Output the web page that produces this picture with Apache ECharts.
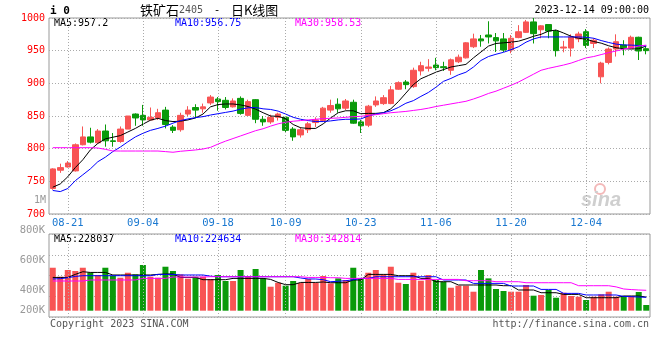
<!DOCTYPE html>
<html><head><meta charset="utf-8">
<script src="https://cdn.jsdelivr.net/npm/echarts@6/dist/echarts.min.js"></script>
<style>html,body{margin:0;padding:0;background:#fff}#c{width:660px;height:360px}</style>
</head><body><div id="c"></div>
<script>
const dates = ['08-17','08-18','08-21','08-22','08-23','08-24','08-25','08-28','08-29','08-30','08-31','09-01','09-04','09-05','09-06','09-07','09-08','09-11','09-12','09-13','09-14','09-15','09-18','09-19','09-20','09-21','09-22','09-25','09-26','09-27','09-28','10-09','10-10','10-11','10-12','10-13','10-16','10-17','10-18','10-19','10-20','10-23','10-24','10-25','10-26','10-27','10-30','10-31','11-01','11-02','11-03','11-06','11-07','11-08','11-09','11-10','11-13','11-14','11-15','11-16','11-17','11-20','11-21','11-22','11-23','11-24','11-27','11-28','11-29','11-30','12-01','12-04','12-05','12-06','12-07','12-08','12-11','12-12','12-13','12-14'];
const opens  = [739,767,772,766,806,818,809,827,812,811, 830,853,851,844,847,859,833,829,853,863, 861,870,876,874,864,877,851,875,845,841, 848,848,830,821,829,840,843,859,868,862, 871,841,836,867,869,869,891,902,895,919, 923,928,925.5,920,933,939,956,968,974,970, 968,951,970,978,994,982,990,980,954,954, 968,979,961,910,932,952.5,958.7,953.6,970.5,953];
const closes = [769,771,778,806,818,810,827,812,811,830, 850,847,844,848,855,837,828,851,859,859, 864,879,872,863,873,854,872,845,841,848, 853,828,818,829,838,844,862,866,861,873, 839,835,865,873,878,890,901,898,920,927, 925,924,924,936,940,962,968,965,971,965, 951,969,979,994,976,988,980,950,955.6,971, 975.5,958,966,931,952.5,963.7,954.5,970.5,949.5,950];
const lows   = [737,763,771,765,805,808,808,803,803,809, 830,835,835,843,844,831,824,826,850,847, 855,867,858,860,863,852,850,839,835,838, 843,824,812,817,824,833,841,855,855,859, 838,824,833,864,867,868,890,891,893,912, 918,920,919,913,931,938,954,956,961,948, 948,946,969,977,961,969,969,941,947.5,941, 963,954,954,900,929,941,943,952.5,935.7,944.4];
const highs  = [770,777,781,808,834,832,830,837,824,834, 850,854,867,863,861,864,836,855,865,868, 869,882,879,879,877,880,875,876,850,852, 855,849,833,833,841,848,864,875,877,876, 875,844,867,880,882,896,903,905,924,933, 937,939,933,938,944,963,976,974,995,977, 977,974,989,997,1000,989,990,982,965,975, 979,983,969,933,955,975,966,973,971.4,956];
const ma5  = [741,746,757,771,783,798,808,815,817.5,820, 825.5,831,837.5,843.5,846.5,843,841.5,842,844,847, 853,864,867.5,868.4,868.4,867,864.5,860.5,855,850, 849.5,846,837,832,831,831,838,847,855,858, 858,853.5,854,854,855,861,872,885,898,907, 912,917,921,925,927,929,939,948,957,961, 962,963,964.5,968,972,975,980,981.5,977,972, 969,967.5,964,961.5,957.5,954.5,953,952.5,953,957];
const ma10 = [736,734.3,739,751,760,769,780,787,795.5,802.5, 810.5,818,823.5,828,831,834.5,839,843,845.5,847.5, 849,851.5,853.5,855.5,857.5,860.5,862.5,863,861,860, 857.5,853,848,845,843,841.5,841.5,842.5,844,845, 845,845.5,850,853,855,858,863,869.5,873.5,880, 886,894,903,907.5,913,917,925,935,941,944.5, 947.5,951.5,956,963,968,971,971,971,971,971, 971,970.5,969,965.5,962.5,960,958.7,958.5,958,957];
const ma30 = [801.5,801.5,801.5,801.5,801.5,801.5,801,799,796.5,796.4, 796.4,796.4,796.4,796.4,796.4,795.5,794.5,796,797,798, 799.5,802,807,811.5,815.5,819.5,823.5,827.5,830.5,834.5, 838,840.5,842,843,844,845,846,846.5,847,848, 849,849.5,851,852,853.5,855,856,857,858.5,860, 862,864.5,866.5,868.5,870.5,872.5,876,880,884.5,888, 892.5,897,902,908,914,920,923,925.5,928,931, 935,939,941,944,947,949.5,952.5,954.5,957,958.5];
// volume in thousands
const volumes = [722,571,684,667,722,643,600,722,588,554, 638,610,768,571,554,739,667,610,538,571, 571,533,600,499,499,684,583,701,543,403, 470,420,499,465,533,465,583,459,543,516, 722,543,638,684,610,739,470,449,638,504, 600,516,487,386,420,420,319,684,543,365, 331,319,319,432,252,264,348,218,302,247, 235,180,235,274,319,235,247,247,314,96];
const volMa5  = [559,559,559,610,655,643,643,643,600,600, 600,600,600,600,610,617,617,559,559,559, 521,521,521,521,543,543,543,543,543,526, 475,437,437,475,475,475,482,470,470,470, 516,516,610,610,610,610,588,588,588,543, 543,487,487,487,432,432,432,432,432,432, 420,420,348,348,348,302,302,302,274,274, 274,218,218,218,218,218,247,247,247,228];
const volMa10 = [533,538,554,576,588,588,588,588,588,588, 588,588,588,588,610,610,610,600,600,600, 600,580,571,571,571,571,571,571,571,571, 571,571,571,550,533,533,521,487,495,504, 520,543,543,571,571,571,571,571,571,571, 571,571,516,516,516,516,459,459,459,459, 459,415,415,415,415,358,358,358,291,291, 291,264,264,264,264,264,240,235,230,225];
const volMa30 = [499,499,499,499,499,516,516,516,516,516, 516,516,543,543,543,543,566,566,566,566, 566,571,571,571,571,571,571,571,571,571, 571,571,571,571,559,559,559,554,554,543, 543,543,543,543,543,543,526,526,526,526, 526,526,526,526,526,504,504,504,504,487, 487,487,487,470,470,470,470,470,470,470, 420,420,420,420,420,400,365,355,348,343];
const priceMin = 700, priceMax = 1000, priceStep = 50;
const gridDates = ['08-21','09-04','09-18','10-09','10-23','11-06','11-20','12-04'];
const volTickLabels = ['200K','','400K','','','600K','','','800K'];

const RED = '#f85454', GREEN = '#0a9a0a';
const mono = "'DejaVu Sans Mono', monospace";
const cjk = "'Noto Sans CJK SC', sans-serif";

const candles = dates.map((d, i) => [opens[i], closes[i], lows[i], highs[i]]);
const volData = volumes.map((v, i) => ({value: v, itemStyle: {color: closes[i] >= opens[i] ? RED : GREEN}}));
const dotted = {color: '#aaa', type: [1, 2], width: 1};
const vLines = {silent: true, symbol: ['none', 'none'], label: {show: false}, lineStyle: dotted,
  emphasis: {disabled: true}, data: gridDates.map(d => ({xAxis: d}))};

function txt(x, y, text, fill, font, align) {
  return {type: 'text', x: x, y: y, silent: true,
    style: {text: text, fill: fill, font: font, align: align || 'left', textAlign: align || 'left', verticalAlign: 'middle', textVerticalAlign: 'middle'}};
}

const chart = echarts.init(document.getElementById('c'));
chart.setOption({
  animation: false,
  backgroundColor: '#fff',
  grid: [
    {left: 49, top: 18, width: 601, height: 196, show: true, borderColor: '#999', borderWidth: 1},
    {left: 49, top: 234, width: 601, height: 83, show: true, borderColor: '#999', borderWidth: 1},
    {left: 49, top: 230.5, width: 601, height: 80, show: false}
  ],
  xAxis: [
    {type: 'category', gridIndex: 0, data: dates, axisLine: {show: false}, axisTick: {show: false}, splitLine: {show: false},
      axisLabel: {interval: (i, v) => gridDates.includes(v), color: '#1a78d0', fontFamily: mono, fontSize: 10.5, margin: 4}},
    {type: 'category', gridIndex: 1, data: dates, axisLine: {show: false}, axisTick: {show: false}, axisLabel: {show: false}, splitLine: {show: false}},
    {type: 'category', gridIndex: 2, data: dates, show: false}
  ],
  yAxis: [
    {type: 'value', gridIndex: 0, min: priceMin, max: priceMax, interval: priceStep, axisLine: {show: false}, axisTick: {show: false},
      splitLine: {lineStyle: dotted}, axisLabel: {color: '#f00', fontFamily: mono, fontSize: 10, margin: 4, padding: [0, 0, 5, 0], formatter: v => String(v)}},
    {type: 'value', gridIndex: 1, min: -106, max: 1289, show: false, splitLine: {show: false}},
    {type: 'value', gridIndex: 1, min: 0, max: 4, interval: 1, axisLine: {show: false}, axisTick: {show: false}, axisLabel: {show: false}, splitLine: {lineStyle: dotted}},
    {type: 'value', gridIndex: 2, min: 0, max: 8, interval: 1, axisLine: {show: false}, axisTick: {show: false}, splitLine: {show: false},
      axisLabel: {color: '#999', fontFamily: mono, fontSize: 10.5, margin: 4, formatter: v => volTickLabels[Math.round(v)] || ''}}
  ],
  series: [
    {type: 'candlestick', xAxisIndex: 0, yAxisIndex: 0, data: candles, barWidth: 6,
      itemStyle: {color: RED, color0: GREEN, borderColor: RED, borderColor0: GREEN, borderWidth: 1}, markLine: vLines},
    {type: 'line', xAxisIndex: 0, yAxisIndex: 0, data: ma5, symbol: 'none', lineStyle: {color: '#000', width: 1}, itemStyle: {color: '#000'}},
    {type: 'line', xAxisIndex: 0, yAxisIndex: 0, data: ma10, symbol: 'none', lineStyle: {color: '#00f', width: 1}, itemStyle: {color: '#00f'}},
    {type: 'line', xAxisIndex: 0, yAxisIndex: 0, data: ma30, symbol: 'none', lineStyle: {color: '#f0f', width: 1}, itemStyle: {color: '#f0f'}},
    {type: 'bar', xAxisIndex: 1, yAxisIndex: 1, data: volData, barWidth: 6, markLine: vLines},
    {type: 'line', xAxisIndex: 1, yAxisIndex: 1, data: volMa5, symbol: 'none', lineStyle: {color: '#000', width: 1}},
    {type: 'line', xAxisIndex: 1, yAxisIndex: 1, data: volMa10, symbol: 'none', lineStyle: {color: '#00f', width: 1}},
    {type: 'line', xAxisIndex: 1, yAxisIndex: 1, data: volMa30, symbol: 'none', lineStyle: {color: '#f0f', width: 1}}
  ],
  graphic: [
    txt(50, 11, 'i 0', '#000', 'bold 11px ' + mono),
    {type: 'text', x: 140, y: 10, silent: true, style: {
      text: '{a|铁矿石}{b|2405}{c| - }{a|日K线图}', verticalAlign: 'middle', textVerticalAlign: 'middle',
      rich: {a: {fontFamily: cjk, fontSize: 13, fill: '#000', color: '#000'},
             b: {fontFamily: mono, fontSize: 10, fill: '#555', color: '#555'},
             c: {fontFamily: mono, fontSize: 11, fill: '#000', color: '#000', padding: [0, 4, 0, 4]}}}},
    txt(649, 10, '2023-12-14 09:00:00', '#000', '10px ' + mono, 'right'),
    txt(54, 23, 'MA5:957.2', '#000', '10px ' + mono),
    txt(175, 23, 'MA10:956.75', '#00f', '10px ' + mono),
    txt(295, 23, 'MA30:958.53', '#f0f', '10px ' + mono),
    txt(54, 239, 'MA5:228037', '#000', '10px ' + mono),
    txt(175, 239, 'MA10:224634', '#00f', '10px ' + mono),
    txt(295, 239, 'MA30:342814', '#f0f', '10px ' + mono),
    txt(46, 200, '1M', '#999', '10px ' + mono, 'right'),
    txt(50, 324, 'Copyright 2023 SINA.COM', '#555', '10px ' + mono),
    txt(649, 324, 'http://finance.sina.com.cn', '#555', '10px ' + mono, 'right'),
    {type: 'circle', silent: true, shape: {cx: 600, cy: 189, r: 5}, style: {fill: 'none', stroke: '#f3b9b9', lineWidth: 2}},
    txt(581, 200, 'sina', '#cfcfcf', 'italic bold 20px Arial, sans-serif')
  ]
});
</script>
</body></html>
